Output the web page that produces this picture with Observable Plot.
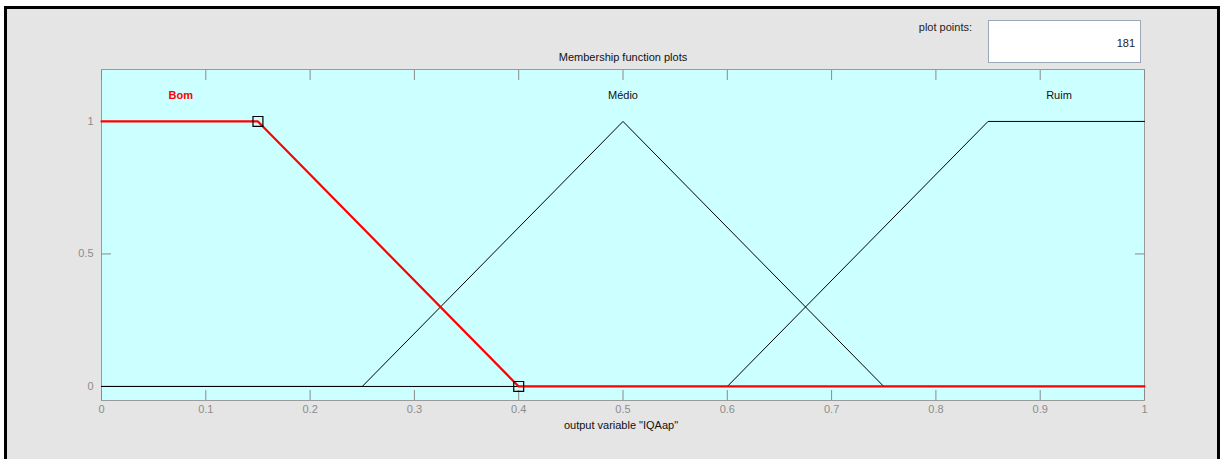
<!DOCTYPE html>
<html>
<head>
<meta charset="utf-8">
<script src="https://cdn.jsdelivr.net/npm/d3@7"></script>
<script src="https://cdn.jsdelivr.net/npm/@observablehq/plot@0.6"></script>
<style>
  html, body { margin: 0; padding: 0; background: #ffffff; width: 1221px; height: 459px; overflow: hidden; }
  body { position: relative; font-family: "Liberation Sans", Arial, sans-serif; }
  #panel { position: absolute; left: 4px; top: 6px; width: 1210px; height: 470px; border: 3px solid #000; background: #e5e5e5; }
  #chart { position: absolute; left: 0; top: 0; }
  #pp-label { position: absolute; right: 249px; top: 21px; font-size: 11px; color: #222; }
  #pp-box { position: absolute; left: 988px; top: 20px; width: 151px; height: 41px; background: #fff; border: 1px solid #9aa8b8; box-sizing: content-box; }
  #pp-val { position: absolute; right: 5px; top: 16px; font-size: 11px; color: #222; }
</style>
</head>
<body>
<div id="panel"></div>
<div id="chart"></div>
<div id="pp-label">plot points:</div>
<div id="pp-box"><span id="pp-val"></span></div>
<script>
// ---- data ----
const xTicks = [0, 0.1, 0.2, 0.3, 0.4, 0.5, 0.6, 0.7, 0.8, 0.9, 1];
const yTicks = [0, 0.5, 1];
const mfNames = ["Bom", "Médio", "Ruim"];
const bomX = [0, 0.15, 0.4, 1];
const bomY = [1, 1, 0, 0];
const medioX = [0, 0.25, 0.5, 0.75, 1];
const medioY = [0, 0, 1, 0, 0];
const ruimX = [0, 0.6, 0.85, 1];
const ruimY = [0, 0, 1, 1];
const labelX = [0.076, 0.5, 0.918];
const labelY = [1.097, 1.097, 1.097];
const markerX = [0.15, 0.4];
const markerY = [1, 0];
const plotPoints = "181";
const titleText = "Membership function plots";
const xLabel = 'output variable "IQAap"';

document.getElementById("pp-val").textContent = plotPoints;

const toPts = (xs, ys) => xs.map((x, i) => ({x, y: ys[i]}));
const labels = mfNames.map((n, i) => ({name: n, x: labelX[i], y: labelY[i], sel: i === 0}));

const chart = Plot.plot({
  width: 1221,
  height: 459,
  marginLeft: 101,
  marginRight: 77,
  marginTop: 69,
  marginBottom: 59,
  style: {background: "transparent", fontFamily: "Liberation Sans, Arial, sans-serif", fontSize: "11px", overflow: "visible"},
  x: {domain: [0, 1]},
  y: {domain: [-0.053, 1.196]},
  marks: [
    Plot.frame({fill: "#ccffff", stroke: "#9a9a9a"}),
    // inward ticks
    Plot.axisX(xTicks, {anchor: "bottom", tickSize: -10, tickFormat: () => "", stroke: "#8a8a8a", label: null}),
    Plot.axisX(xTicks, {anchor: "top", tickSize: -10, tickFormat: () => "", stroke: "#8a8a8a", label: null}),
    Plot.axisY(yTicks, {anchor: "left", tickSize: -10, tickFormat: () => "", stroke: "#8a8a8a", label: null}),
    Plot.axisY(yTicks, {anchor: "right", tickSize: -10, tickFormat: () => "", stroke: "#8a8a8a", label: null}),
    // tick labels
    Plot.axisX(xTicks, {anchor: "bottom", tickSize: 0, tickPadding: 5, fill: "#8c8c8c", label: null, tickFormat: d => String(d)}),
    Plot.axisY(yTicks, {anchor: "left", tickSize: 0, tickPadding: 8, fill: "#8c8c8c", label: null, tickFormat: d => String(d)}),
    // membership functions
    Plot.line(toPts(medioX, medioY), {x: "x", y: "y", stroke: "#000", strokeWidth: 1}),
    Plot.line(toPts(ruimX, ruimY), {x: "x", y: "y", stroke: "#000", strokeWidth: 1}),
    Plot.line(toPts(bomX, bomY), {x: "x", y: "y", stroke: "#ff0000", strokeWidth: 2.2}),
    Plot.dot(toPts(markerX, markerY), {x: "x", y: "y", symbol: "square", r: 5.6, stroke: "#000", fill: "none", strokeWidth: 1.2}),
    // MF labels
    Plot.text(labels.filter(d => !d.sel), {x: "x", y: "y", text: "name", fill: "#111", fontSize: 11}),
    Plot.text(labels.filter(d => d.sel), {x: "x", y: "y", text: "name", fill: "#ff0000", fontWeight: "bold", fontSize: 11}),
    // title & axis label
    Plot.text([titleText], {frameAnchor: "top", dy: -16, text: d => d, fill: "#111", fontSize: 11}),
    Plot.text([xLabel], {frameAnchor: "bottom", dy: 28, dx: -2, text: d => d, fill: "#111", fontSize: 11})
  ]
});
document.getElementById("chart").appendChild(chart);
</script>
</body>
</html>
